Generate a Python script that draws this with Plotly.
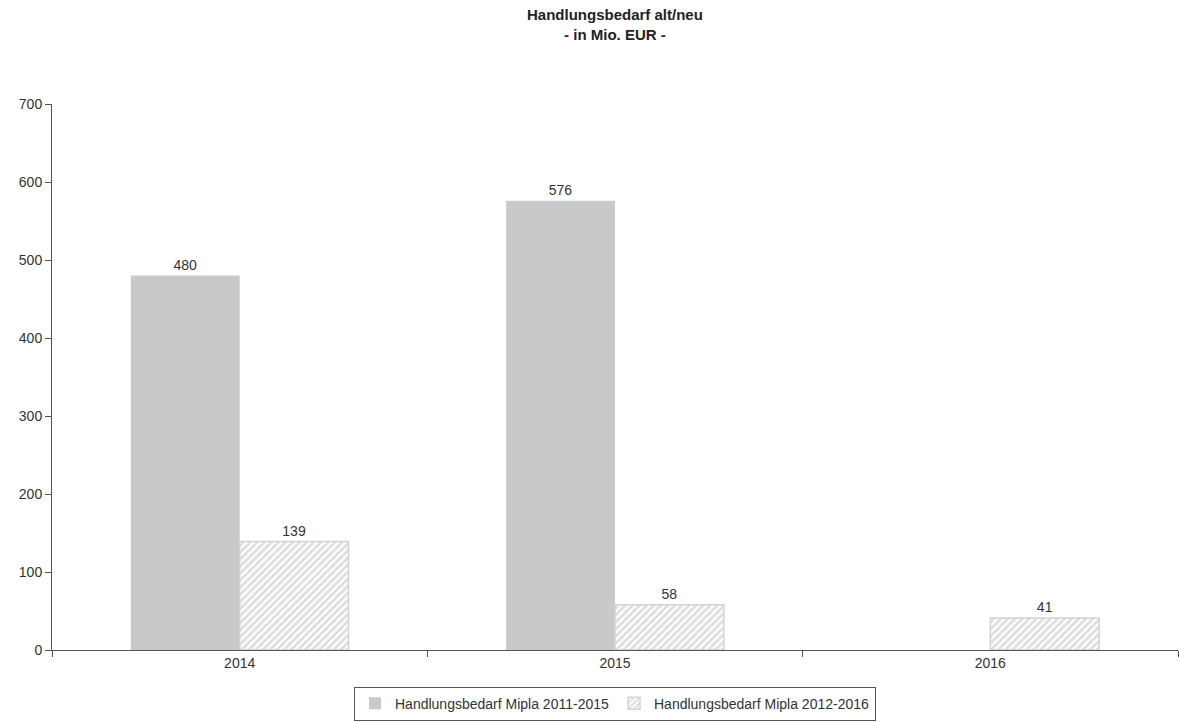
import plotly.graph_objects as go

categories = ["2014", "2015", "2016"]
series_alt_name = "Handlungsbedarf Mipla 2011-2015"
series_alt = [480, 576, None]
series_neu_name = "Handlungsbedarf Mipla 2012-2016"
series_neu = [139, 58, 41]

def lbl(vals):
    return ["" if v is None else str(v) for v in vals]

fig = go.Figure()
fig.add_trace(go.Bar(
    x=categories, y=series_alt, name=series_alt_name,
    marker=dict(color="#c8c9cb", line=dict(width=0)),
    text=lbl(series_alt), textposition="outside",
    textfont=dict(size=14, color="#333333"), cliponaxis=False,
))
fig.add_trace(go.Bar(
    x=categories, y=series_neu, name=series_neu_name,
    marker=dict(color="#ffffff", line=dict(width=1.5, color="#d3d3d3"),
                pattern=dict(shape="/", fgcolor="#bebebe", bgcolor="#ffffff",
                             size=5, solidity=0.55)),
    text=lbl(series_neu), textposition="outside",
    textfont=dict(size=14, color="#333333"), cliponaxis=False,
))

fig.update_layout(
    width=1179, height=722,
    margin=dict(l=52, r=1, t=104, b=72, autoexpand=False),
    paper_bgcolor="white", plot_bgcolor="white",
    font=dict(family="Liberation Sans, Arial, sans-serif", size=14, color="#333333"),
    barmode="group", bargap=0.42, bargroupgap=0,
    annotations=[dict(text="<b>Handlungsbedarf alt/neu<br>- in Mio. EUR -</b>",
                      x=0.5, xref="paper", y=1.183, yref="paper", yanchor="top",
                      showarrow=False, font=dict(size=15, color="#222222"))],
    xaxis=dict(type="category", showline=True, linecolor="#555555", linewidth=1,
               ticks="outside", tickson="boundaries", ticklen=6, tickcolor="#555555",
               showgrid=False, tickfont=dict(size=14, color="#333333")),
    yaxis=dict(range=[0, 700], dtick=100, showline=True, linecolor="#555555", linewidth=1,
               ticks="outside", ticklen=6, tickcolor="#555555", showgrid=False,
               zeroline=False, tickfont=dict(size=14, color="#333333")),
    legend=dict(orientation="h", x=0.5, xanchor="center", xref="paper",
                y=0.002, yanchor="bottom", yref="container",
                bordercolor="#555555", borderwidth=1, font=dict(size=14, color="#333333"),
                itemwidth=30, tracegroupgap=0),
)

fig.write_html("out.html")
